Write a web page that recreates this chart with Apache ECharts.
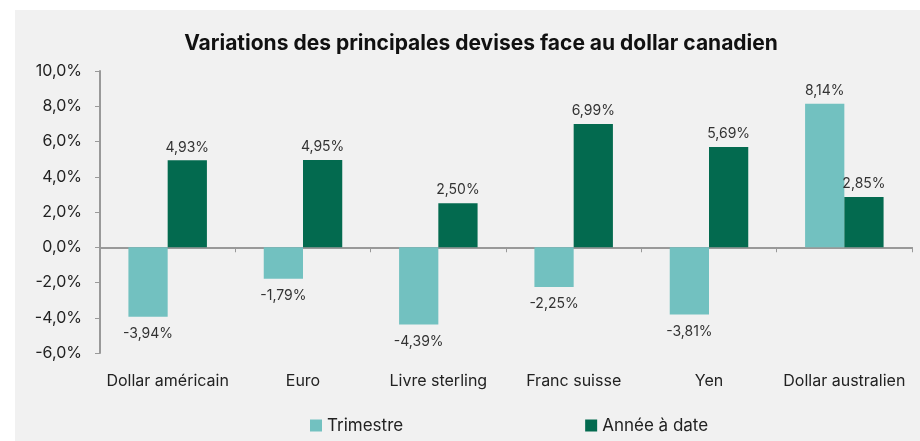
<!DOCTYPE html>
<html>
<head>
<meta charset="utf-8">
<script src="https://cdn.jsdelivr.net/npm/echarts@6/dist/echarts.min.js"></script>
<style>
  html, body { margin: 0; padding: 0; background: #fff; }
  #chart { width: 920px; height: 441px; }
</style>
</head>
<body>
<div id="chart"></div>
<script>
var categories = ['Dollar américain', 'Euro', 'Livre sterling', 'Franc suisse', 'Yen', 'Dollar australien'];
var trimestre = [-3.94, -1.79, -4.39, -2.25, -3.81, 8.14];
var anneeADate = [4.93, 4.95, 2.50, 6.99, 5.69, 2.85];
var seriesNames = ['Trimestre', 'Année à date'];

var font = 'Inter, "Noto Sans", sans-serif';

function pct2(v) { return v.toFixed(2).replace('.', ',') + '%'; }

// étiquette un peu plus loin sous les barres négatives
function withLabels(arr) {
  return arr.map(function (v) {
    return { value: v, label: { distance: v < 0 ? 10 : 6 } };
  });
}

function barSeries(name, arr) {
  return {
    name: name, type: 'bar', data: withLabels(arr),
    barGap: 0, barCategoryGap: '42%',
    label: { show: true, position: 'outside', fontSize: 14, color: '#333', fontFamily: font,
      formatter: function (p) { return pct2(p.value); } }
  };
}

var option = {
  backgroundColor: '#fff',
  color: ['#72c1c0', '#036a4f'],
  textStyle: { fontFamily: font },
  graphic: [{
    type: 'rect', left: 15, top: 10, z: -10, silent: true,
    shape: { width: 905, height: 431 },
    style: { fill: '#f1f1f1' }
  }],
  title: {
    text: 'Variations des principales devises face au dollar canadien',
    left: 476, textAlign: 'center', top: 28,
    textStyle: { fontFamily: font, fontSize: 21, fontWeight: 'bold', color: '#111' }
  },
  legend: {
    data: seriesNames,
    left: 305, top: 412,
    itemGap: 182, itemWidth: 12, itemHeight: 12,
    icon: 'rect',
    textStyle: { fontFamily: font, fontSize: 17, color: '#222' }
  },
  grid: { left: 100, right: 8, top: 71, bottom: 88 },
  xAxis: [{
    type: 'category',
    data: categories,
    axisLine: { onZero: true, lineStyle: { color: '#999', width: 2 } },
    axisTick: { show: true, length: 5, lineStyle: { color: '#999' } },
    axisLabel: { show: false }
  }, {
    // les libellés de catégorie sont sous le graphique, pas sur la ligne du zéro
    type: 'category', data: categories, position: 'bottom',
    axisLine: { show: false }, axisTick: { show: false },
    axisLabel: { fontFamily: font, fontSize: 16, color: '#222', margin: 20, interval: 0 }
  }],
  yAxis: {
    type: 'value',
    min: -6, max: 10, interval: 2,
    axisLine: { show: true, lineStyle: { color: '#999', width: 2 } },
    axisTick: { show: true, length: 5, lineStyle: { color: '#999' } },
    splitLine: { show: false },
    axisLabel: {
      fontFamily: font, fontSize: 16, color: '#222', margin: 18,
      formatter: function (v) { return v.toFixed(1).replace('.', ',') + '%'; }
    }
  },
  series: [barSeries(seriesNames[0], trimestre), barSeries(seriesNames[1], anneeADate)]
};

var myChart = echarts.init(document.getElementById('chart'));
myChart.setOption(option);
</script>
</body>
</html>
